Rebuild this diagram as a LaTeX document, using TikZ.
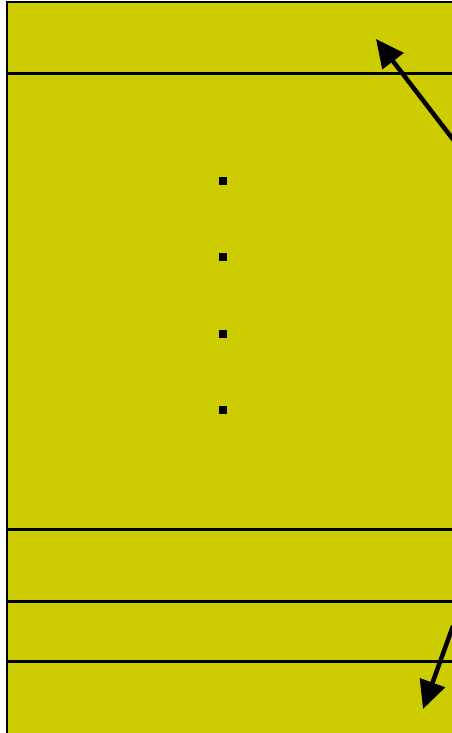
\documentclass[tikz,border=0pt]{standalone}
\usepackage{tikz}
\usetikzlibrary{positioning,arrows.meta,calc}
\definecolor{olive}{RGB}{204,204,0}

\begin{document}
\begin{tikzpicture}[
  x=1pt,
  y=-1pt,
  divider/.style={draw=black,line width=2.2pt},
  dot/.style={
    rectangle,
    fill=black,
    inner sep=0pt,
    minimum size=8pt
  },
  pointer/.style={
    draw=black,
    line width=4.5pt,
    -{Triangle[length=28pt,width=26pt]}
  }
]
  \useasboundingbox (0,0) rectangle (451,733);

  \coordinate (tl) at (7,2);
  \coordinate (br) at (470,745);

  \fill[olive] (tl) rectangle (br);
  \draw[divider] (470,2) -- (tl) -- (7,745);

  \coordinate (s1) at (7, 73.5);
  \coordinate (s2) at (7,529.5);
  \coordinate (s3) at (7,601.5);
  \coordinate (s4) at (7,661.5);

  \draw[divider] (s1) -- ++(470,0);
  \draw[divider] (s2) -- ++(470,0);
  \draw[divider] (s3) -- ++(470,0);
  \draw[divider] (s4) -- ++(470,0);

  \node[dot] (d1) at (223,180.5) {};
  \node[dot] (d2) at (223,257) {};
  \node[dot] (d3) at (223,333.5) {};
  \node[dot] (d4) at (223,410) {};

  \coordinate (up0) at (455,142);
  \coordinate (up1) at (376,39);
  \coordinate (dn0) at (453,626);
  \coordinate (dn1) at (423,709);

  \draw[pointer] (up0) -- (up1);
  \draw[pointer] (dn0) -- (dn1);
\end{tikzpicture}
\end{document}
